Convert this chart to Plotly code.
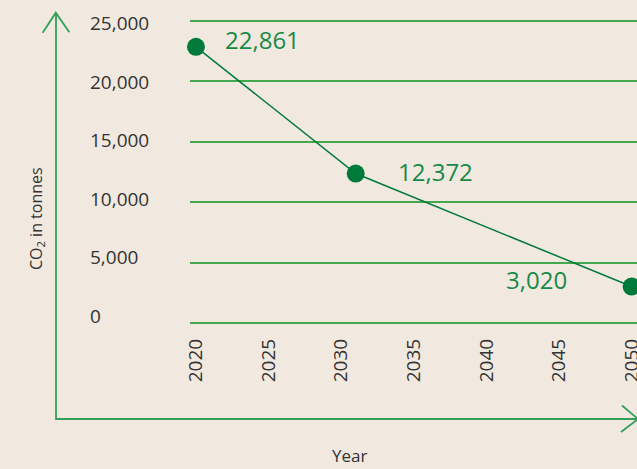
import plotly.graph_objects as go

# ---- data ----
years = [2020, 2031, 2050]
co2_tonnes = [22861, 12372, 3020]
value_labels = ["22,861", "12,372", "3,020"]
x_ticks = [2020, 2025, 2030, 2035, 2040, 2045, 2050]
y_ticks = [0, 5000, 10000, 15000, 20000, 25000]
y_tick_labels = ["0", "5,000", "10,000", "15,000", "20,000", "25,000"]

# ---- style ----
W, H = 637, 469
ML, MR, MT, MB = 190, 0, 19, 144
Y0_PX, Y25_PX = 323, 21   # pixel rows of 0 and 25,000
BG = "#f1e9df"
GRID = "#43a84f"
DARK_GREEN = "#007a3b"
LABEL_GREEN = "#178a47"
AXIS_GREEN = "#31a05a"
TEXT = "#333333"
FONT = "Open Sans"

PW = W - ML - MR
PH = H - MT - MB
units_per_px = 25000 / (Y0_PX - Y25_PX)
y_lo = -(H - MB - Y0_PX) * units_per_px
y_hi = 25000 + (Y25_PX - MT) * units_per_px


def px(x):
    return (x - ML) / PW


def py(y):
    return (H - MB - y) / PH


fig = go.Figure()
fig.add_trace(go.Scatter(
    x=years, y=co2_tonnes, mode="lines+markers",
    line=dict(color=DARK_GREEN, width=1.5),
    marker=dict(color=DARK_GREEN, size=18),
    cliponaxis=False, hoverinfo="x+y", showlegend=False,
))

# value labels
label_shift = [(26.7, 7.3, "left"), (40.7, 2.5, "left"), (-62.5, 7.5, "right")]
for xv, yv, txt, (dx, dy, anc) in zip(years, co2_tonnes, value_labels, label_shift):
    fig.add_annotation(x=xv, y=yv, xref="x", yref="y", text=txt, showarrow=False,
                       xanchor=anc, yanchor="middle", xshift=dx, yshift=dy,
                       font=dict(family=FONT, size=24, color=LABEL_GREEN))

# y tick labels (left aligned, slightly tighter spacing than the grid)
for i, (yv, txt) in enumerate(zip(y_ticks, y_tick_labels)):
    fig.add_annotation(x=px(88), y=yv, xref="paper", yref="y", text=txt,
                       showarrow=False, xanchor="left", yanchor="middle",
                       yshift=7.5 - i * 1.9,
                       font=dict(family=FONT, size=19, color=TEXT))

# axis titles
fig.add_annotation(x=px(349.7), y=py(455), xref="paper", yref="paper", text="Year",
                   showarrow=False, xanchor="center", yanchor="middle",
                   font=dict(family=FONT, size=17, color=TEXT))
fig.add_annotation(x=px(36.5), y=py(218.5), xref="paper", yref="paper",
                   text="CO<sub>2</sub> in tonnes", textangle=-90,
                   showarrow=False, xanchor="center", yanchor="middle",
                   font=dict(family=FONT, size=16, color=TEXT))

# arrow axes (decoration)
def seg(points):
    return "M " + " L ".join(f"{px(a):.5f},{py(b):.5f}" for a, b in points)

line_style = dict(color=AXIS_GREEN, width=1.8)
for pts in [
    [(56, 13), (56, 419), (638, 419)],
    [(42.7, 32.7), (55.8, 12.7), (69.3, 32.3)],
    [(622, 405.5), (638, 419), (621, 432)],
]:
    fig.add_shape(type="path", path=seg(pts), xref="paper", yref="paper",
                  line=line_style, layer="above")

fig.update_layout(
    width=W, height=H,
    margin=dict(l=ML, r=MR, t=MT, b=MB, autoexpand=False),
    paper_bgcolor=BG, plot_bgcolor=BG,
    font=dict(family=FONT, color=TEXT),
    xaxis=dict(range=[2019.59, 2050.37], tickvals=x_ticks, tickangle=-90,
               showgrid=False, zeroline=False, showline=False, automargin=False,
               ticks="", ticklabelstandoff=9, ticklabeloverflow="allow",
               tickfont=dict(family=FONT, size=19, color=TEXT)),
    yaxis=dict(range=[y_lo, y_hi], tickvals=y_ticks, showticklabels=False,
               showgrid=True, gridcolor=GRID, gridwidth=1.5, automargin=False,
               zeroline=False, showline=False, ticks=""),
)

fig.write_html(
    "out.html",
    config={"displayModeBar": False},
    post_script="document.body.style.margin='0';document.body.style.padding='0';"
                "document.body.style.overflow='hidden';",
)
